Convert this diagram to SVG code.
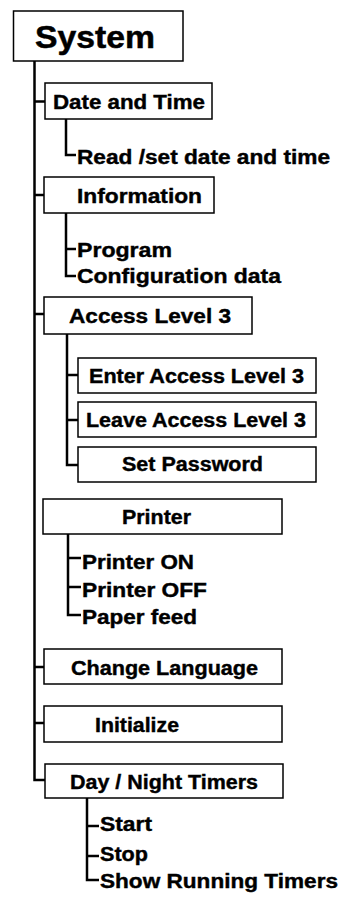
<svg xmlns="http://www.w3.org/2000/svg" width="343" height="898" viewBox="0 0 343 898">
<style>
.box{fill:#fff;stroke:#000;stroke-width:1.5}
.t{font-family:"Liberation Sans",Arial,sans-serif;font-weight:bold;font-size:20px;fill:#000;stroke:#000;stroke-width:0.4}
.big{font-size:32px;stroke-width:0.5}
.ln{fill:none;stroke:#000;stroke-width:2.5}
</style>
<g id="connectors">
<path class="ln" d="M34.5 61V780H45"/>
<path class="ln" d="M34.5 101.5H45M34.5 195H44M34.5 314H44M34.5 667H44M34.5 723H44"/>
<path class="ln" d="M66 119V155H76"/>
<path class="ln" d="M66 213V276H76M66 249H76"/>
<path class="ln" d="M67 334V465H78M67 375H78M67 420H78"/>
<path class="ln" d="M68 534V615H81M68 558H81M68 587H81"/>
<path class="ln" d="M87 798V880H99M87 826H99M87 856H99"/>
</g>
<g id="system"><rect class="box" x="13.5" y="11" width="169.5" height="50"/><text class="t big" x="35" y="48" textLength="120" lengthAdjust="spacingAndGlyphs">System</text></g>
<g id="date-time"><rect class="box" x="45" y="83" width="167" height="36"/><text class="t" x="53" y="109" textLength="152" lengthAdjust="spacingAndGlyphs">Date and Time</text></g>
<g id="read-set"><text class="t" x="77" y="164" textLength="253" lengthAdjust="spacingAndGlyphs">Read /set date and time</text></g>
<g id="information"><rect class="box" x="44" y="177" width="170" height="36"/><text class="t" x="77" y="203" textLength="125" lengthAdjust="spacingAndGlyphs">Information</text></g>
<g id="program"><text class="t" x="77" y="257" textLength="95" lengthAdjust="spacingAndGlyphs">Program</text></g>
<g id="config"><text class="t" x="77" y="283" textLength="204" lengthAdjust="spacingAndGlyphs">Configuration data</text></g>
<g id="access"><rect class="box" x="44" y="297" width="208" height="37"/><text class="t" x="69" y="323" textLength="162" lengthAdjust="spacingAndGlyphs">Access Level 3</text></g>
<g id="enter"><rect class="box" x="78" y="358" width="238" height="35"/><text class="t" x="89" y="383" textLength="215" lengthAdjust="spacingAndGlyphs">Enter Access Level 3</text></g>
<g id="leave"><rect class="box" x="78" y="402" width="238" height="35"/><text class="t" x="86" y="427" textLength="220" lengthAdjust="spacingAndGlyphs">Leave Access Level 3</text></g>
<g id="password"><rect class="box" x="78" y="447" width="238" height="35"/><text class="t" x="122" y="471" textLength="141" lengthAdjust="spacingAndGlyphs">Set Password</text></g>
<g id="printer"><rect class="box" x="43" y="499" width="239" height="35"/><text class="t" x="122" y="524" textLength="69" lengthAdjust="spacingAndGlyphs">Printer</text></g>
<g id="printer-on"><text class="t" x="82" y="569" textLength="112" lengthAdjust="spacingAndGlyphs">Printer ON</text></g>
<g id="printer-off"><text class="t" x="82" y="597" textLength="125" lengthAdjust="spacingAndGlyphs">Printer OFF</text></g>
<g id="paper"><text class="t" x="82" y="624" textLength="115" lengthAdjust="spacingAndGlyphs">Paper feed</text></g>
<g id="language"><rect class="box" x="44" y="649" width="238" height="35"/><text class="t" x="71" y="675" textLength="187" lengthAdjust="spacingAndGlyphs">Change Language</text></g>
<g id="initialize"><rect class="box" x="44" y="706" width="238" height="36"/><text class="t" x="95" y="732" textLength="84" lengthAdjust="spacingAndGlyphs">Initialize</text></g>
<g id="timers"><rect class="box" x="45" y="764" width="238" height="34"/><text class="t" x="70" y="789" textLength="188" lengthAdjust="spacingAndGlyphs">Day / Night Timers</text></g>
<g id="start"><text class="t" x="100" y="831" textLength="52" lengthAdjust="spacingAndGlyphs">Start</text></g>
<g id="stop"><text class="t" x="100" y="861" textLength="48" lengthAdjust="spacingAndGlyphs">Stop</text></g>
<g id="running"><text class="t" x="100" y="888" textLength="238" lengthAdjust="spacingAndGlyphs">Show Running Timers</text></g>
</svg>
